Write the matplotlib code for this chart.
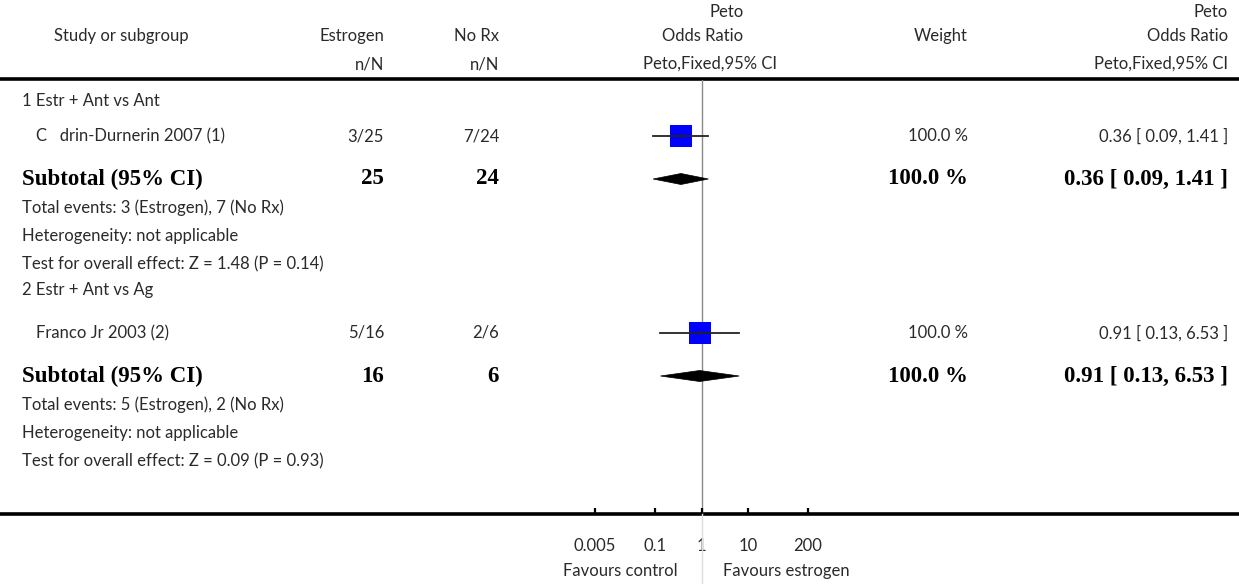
import matplotlib
matplotlib.use("Agg")
import matplotlib.pyplot as plt
from matplotlib.lines import Line2D
from matplotlib.patches import Polygon
from matplotlib.ticker import FixedLocator, FixedFormatter, NullLocator

# ---- data -------------------------------------------------------------
subgroups = ["1 Estr + Ant vs Ant", "2 Estr + Ant vs Ag"]
studies = ["C   drin-Durnerin 2007 (1)", "Franco Jr 2003 (2)"]
est_events = [3, 5]
est_total = [25, 16]
ctl_events = [7, 2]
ctl_total = [24, 6]
odds_ratio = [0.36, 0.91]
ci_low = [0.09, 0.13]
ci_high = [1.41, 6.53]
weight = [100.0, 100.0]
sub_or = [0.36, 0.91]
sub_low = [0.09, 0.13]
sub_high = [1.41, 6.53]
sub_weight = [100.0, 100.0]
z_values = [1.48, 0.09]
p_values = [0.14, 0.93]
tick_values = [0.005, 0.1, 1, 10, 200]
tick_labels = ["0.005", "0.1", "1", "10", "200"]
x_range = (0.005, 200)

# ---- figure & layout (pixel units) ------------------------------------
W, H = 1239, 584
fig = plt.figure(figsize=(W / 100, H / 100), dpi=100)
fig.patch.set_facecolor("white")

REG = dict(family=["Lato", "DejaVu Sans"], fontweight="normal", fontsize=12, color="#2a2a2a")
BOLD = dict(family=["Liberation Serif", "DejaVu Serif"], fontweight="bold", fontsize=16.5, color="black")

# full-figure table axes: x, y in pixels from top-left
tab = fig.add_axes([0, 0, 1, 1])
tab.set_xlim(0, W)
tab.set_ylim(H, 0)
tab.axis("off")

# forest-plot axes
PX0, PX1 = 595, 808
PY0, PY1 = 80, 514
ax = fig.add_axes([PX0 / W, (H - PY1) / H, (PX1 - PX0) / W, (PY1 - PY0) / H])
ax.set_xscale("log")
ax.set_xlim(*x_range)
ax.set_ylim(PY1, PY0)
ax.patch.set_alpha(0)
for s in ax.spines.values():
    s.set_visible(False)
ax.yaxis.set_major_locator(NullLocator())
ax.xaxis.set_major_locator(FixedLocator(tick_values))
ax.xaxis.set_major_formatter(FixedFormatter(tick_labels))
ax.xaxis.set_minor_locator(NullLocator())
ax.tick_params(axis="x", direction="in", length=4.5, width=1.6, color="black", pad=17,
               labelsize=REG["fontsize"], labelcolor=REG["color"])
for lab in ax.get_xticklabels():
    lab.set_family(REG["family"])

# column anchors
X_GROUP = 22
X_STUDY = 36
X_EST = 384
X_CTL = 499
X_MID = 703
X_WT = 968
X_OR = 1228

# header
tab.text(54, 36, "Study or subgroup", ha="left", va="center", **REG)
tab.text(X_EST, 36, "Estrogen", ha="right", va="center", **REG)
tab.text(X_CTL, 36, "No Rx", ha="right", va="center", **REG)
tab.text(X_EST, 64, "n/N", ha="right", va="center", **REG)
tab.text(X_CTL, 64, "n/N", ha="right", va="center", **REG)
mid = tab.text(X_MID, 36, "Odds Ratio", ha="center", va="center", **REG)
tab.text(X_MID + 7, 64, "Peto,Fixed,95% CI", ha="center", va="center", **REG)
tab.text(X_WT, 36, "Weight", ha="right", va="center", **REG)
tab.text(X_OR, 12, "Peto", ha="right", va="center", **REG)
tab.text(X_OR, 36, "Odds Ratio", ha="right", va="center", **REG)
tab.text(X_OR, 64, "Peto,Fixed,95% CI", ha="right", va="center", **REG)
fig.canvas.draw()
bb = mid.get_window_extent().transformed(tab.transData.inverted())
tab.text(max(bb.x0, bb.x1), 12, "Peto", ha="right", va="center", **REG)

# rules
tab.add_line(Line2D([0, W], [79, 79], color="black", lw=2.6))
tab.add_line(Line2D([0, W], [PY1, PY1], color="black", lw=2.6))

# line of no effect
ax.axvline(1, color="#8a8a8a", lw=1.0, zorder=1)
ax.add_line(Line2D([1, 1], [PY1, H], color="#dddddd", lw=1.0, clip_on=False))

# group blocks
group_top = [101, 290]
study_gap = [35, 43]
for g in range(len(subgroups)):
    y0 = group_top[g]
    ys = y0 + study_gap[g]
    yt = ys + 43
    tab.text(X_GROUP, y0, subgroups[g], ha="left", va="center", **REG)

    # study row
    tab.text(X_STUDY, ys, studies[g], ha="left", va="center", **REG)
    tab.text(X_EST, ys, f"{est_events[g]}/{est_total[g]}", ha="right", va="center", **REG)
    tab.text(X_CTL, ys, f"{ctl_events[g]}/{ctl_total[g]}", ha="right", va="center", **REG)
    tab.text(X_WT, ys, f"{weight[g]:.1f} %", ha="right", va="center", **REG)
    tab.text(X_OR, ys, f"{odds_ratio[g]:.2f} [ {ci_low[g]:.2f}, {ci_high[g]:.2f} ]",
             ha="right", va="center", **REG)
    ax.plot([odds_ratio[g]], [ys], marker="s", ms=15.8, color="#0000ff", mew=0, zorder=3)
    ax.plot([ci_low[g], ci_high[g]], [ys, ys], color="#222222", lw=1.3, zorder=4)
    ax.plot([odds_ratio[g]], [ys], marker="|", ms=3.5, mew=1.2, color="#222222", zorder=5)

    # subtotal row
    tab.text(X_GROUP, yt, "Subtotal (95% CI)", ha="left", va="center", **BOLD)
    tab.text(X_EST, yt, f"{est_total[g]}", ha="right", va="center", **BOLD)
    tab.text(X_CTL, yt, f"{ctl_total[g]}", ha="right", va="center", **BOLD)
    tab.text(X_WT, yt, f"{sub_weight[g]:.1f} %", ha="right", va="center", **BOLD)
    tab.text(X_OR, yt, f"{sub_or[g]:.2f} [ {sub_low[g]:.2f}, {sub_high[g]:.2f} ]",
             ha="right", va="center", **BOLD)
    ax.add_patch(Polygon([[sub_low[g], yt], [sub_or[g], yt - 5.5],
                          [sub_high[g], yt], [sub_or[g], yt + 5.5]],
                         closed=True, facecolor="black", edgecolor="black", lw=0.5, zorder=3))

    # statistics lines
    tab.text(X_GROUP, yt + 29, f"Total events: {est_events[g]} (Estrogen), {ctl_events[g]} (No Rx)",
             ha="left", va="center", **REG)
    tab.text(X_GROUP, yt + 57, "Heterogeneity: not applicable", ha="left", va="center", **REG)
    tab.text(X_GROUP, yt + 85, f"Test for overall effect: Z = {z_values[g]:.2f} (P = {p_values[g]:.2f})",
             ha="left", va="center", **REG)

# favours labels
tab.text(678, 571, "Favours control", ha="right", va="center", **REG)
tab.text(723, 571, "Favours estrogen", ha="left", va="center", **REG)

fig.savefig("out.png", dpi=100, facecolor="white")
